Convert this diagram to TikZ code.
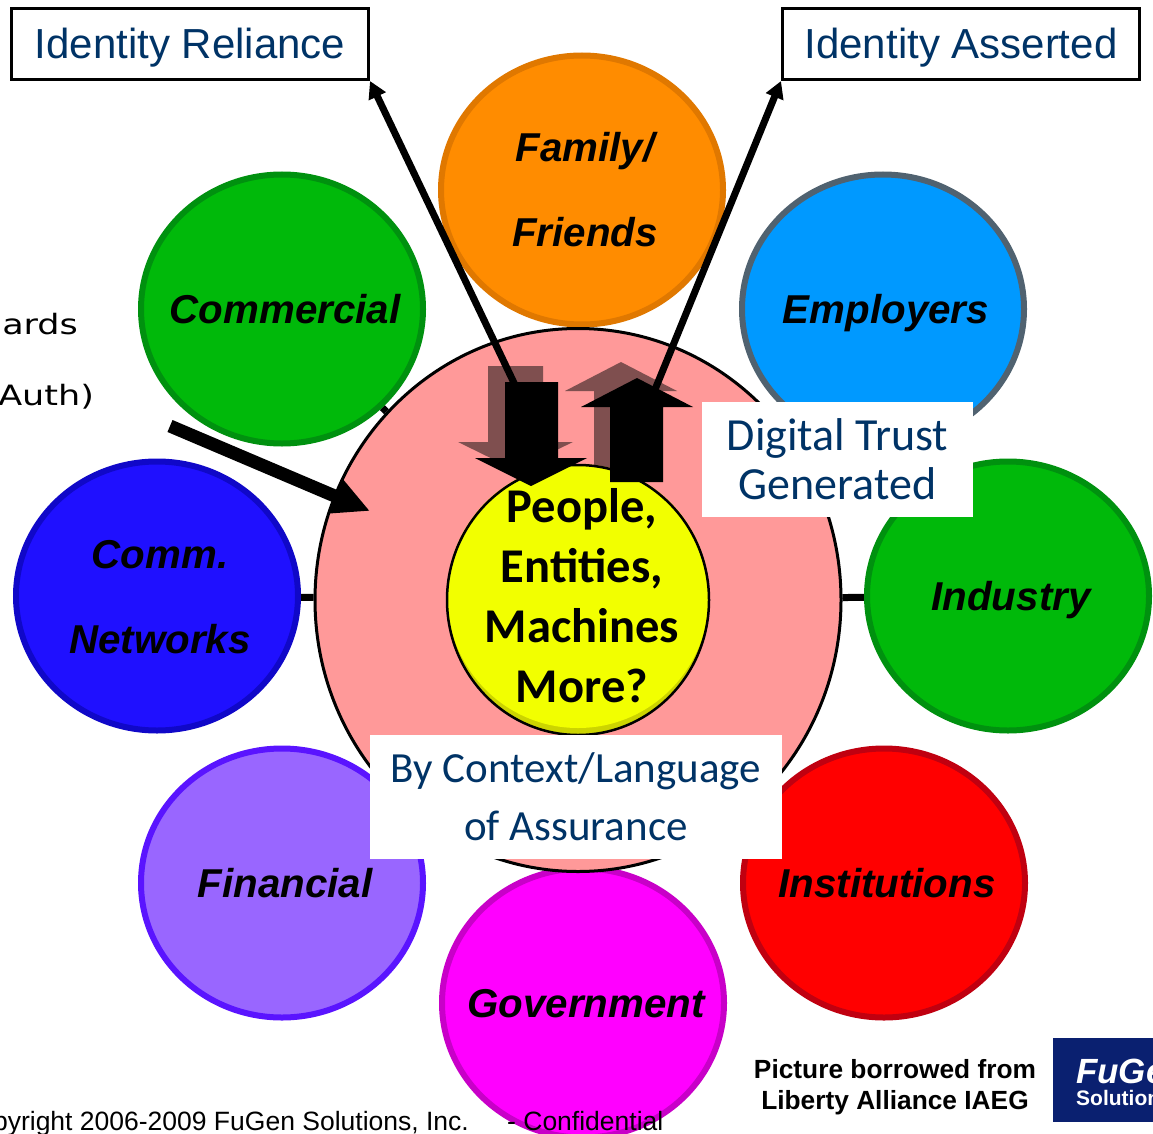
\documentclass[tikz,border=0pt]{standalone}
\usepackage{fontspec}
\setmainfont{Liberation Sans}
\newfontfamily\handfont{Carlito}
\newfontfamily\wideface{DejaVu Sans}
\usetikzlibrary{shapes.geometric,arrows.meta,backgrounds}
\definecolor{navytext}{HTML}{003366}
\definecolor{logoblue}{HTML}{0A2070}
\definecolor{shadowfill}{HTML}{7F4F4F}
\definecolor{trustpink}{HTML}{FF9999}
\definecolor{coreyellow}{HTML}{F2FF00}
\definecolor{coreshade}{HTML}{CCD400}
\newcommand{\sized}[2]{\fontsize{#1}{#2}\selectfont}
\begin{document}
\begin{tikzpicture}[x=1pt,y=-1pt]
        \tikzstyle{sector}=[ellipse,line width=6pt,minimum width=282pt,minimum height=269pt,inner sep=0pt]
        \tikzstyle{sectortext}=[inner sep=0pt,align=center,font=\sized{40.3}{85}\bfseries\itshape]
        \tikzstyle{idbox}=[draw=black,line width=3pt,fill=white,minimum width=357pt,minimum height=71pt,text height=30pt,text depth=0pt,text=navytext,font=\sized{42}{50}]
        \tikzstyle{notebox}=[fill=white,align=center,text=navytext,inner sep=0pt]
        \tikzstyle{link}=[draw=black,line width=7pt]
        \tikzstyle{pointer}=[draw=black,line width=7pt,-{Triangle[length=17pt,width=18pt]}]
        \useasboundingbox (0,0) rectangle (1153,1134);
        % the sectors
        \node [sector,draw={rgb,255:red,224;green,120;blue,0},fill={rgb,255:red,255;green,140;blue,0}] (family) at (582,190) {};
        \node [sector,draw={rgb,255:red,0;green,145;blue,15},fill={rgb,255:red,0;green,185;blue,10}] (commercial) at (282,309) {};
        \node [sector,draw={rgb,255:red,80;green,98;blue,112},fill={rgb,255:red,0;green,153;blue,255}] (employers) at (883,309) {};
        \node [sector,draw={rgb,255:red,16;green,8;blue,200},fill={rgb,255:red,31;green,16;blue,255}] (comm) at (157,596) {};
        \node [sector,draw={rgb,255:red,0;green,145;blue,15},fill={rgb,255:red,0;green,185;blue,10}] (industry) at (1008,596) {};
        \node [sector,draw={rgb,255:red,90;green,20;blue,255},fill={rgb,255:red,153;green,102;blue,255}] (financial) at (282,883) {};
        \node [sector,draw={rgb,255:red,192;green,0;blue,16},fill={rgb,255:red,255;green,0;blue,0}] (institutions) at (884,883) {};
        \node [sector,draw={rgb,255:red,200;green,0;blue,200},fill={rgb,255:red,255;green,0;blue,255}] (government) at (583,1003) {};
        \node [sectortext] (familytext) at (585,190) {Family/\\Friends};
        \node [sectortext,anchor=base] (commercialtext) at (285,323) {Commercial};
        \node [sectortext,anchor=base] (employerstext) at (886,323) {Employers};
        \node [sectortext] (commtext) at (160,597) {Comm.\\Networks};
        \node [sectortext,anchor=base] (industrytext) at (1011,610) {Industry};
        \node [sectortext,anchor=base] (financialtext) at (285,897) {Financial};
        \node [sectortext,anchor=base] (institutionstext) at (887,897) {Institutions};
        \node [sectortext,anchor=base] (governmenttext) at (586,1017) {Government};
        % trust circle and what sits in it
        \node [ellipse,draw=black,line width=3pt,fill=trustpink,minimum width=526pt,minimum height=543pt] (trust) at (578,600) {};
        \begin{scope}[on background layer]
         \path[link] (commercial) -- (trust);
         \path[link] (comm) -- (trust);
         \path[link] (industry) -- (trust);
        \end{scope}
        \fill[shadowfill] (488,366) -- (543,366) -- (543,442) -- (573,442) -- (515,470) -- (458,442) -- (488,442) -- cycle;
        \fill[shadowfill] (594,470) -- (594,391) -- (565,391) -- (621,362) -- (677,391) -- (647,391) -- (647,470) -- cycle;
        \fill[coreshade] (578,600) ellipse (131 and 135);
        \fill[coreyellow] (578,596) ellipse (131 and 132);
        \node [ellipse,draw=black,line width=2.5pt,minimum width=262pt,minimum height=270pt,inner sep=0pt] (core) at (578,600) {};
        \node [inner sep=0pt,align=center,font=\handfont\sized{48.5}{60}\bfseries] (coretext) at (582,596) {People,\\Entities,\\Machines\\More?};
        % boxes at the top and the arrows to them
        \node [idbox] (reliance) at (190,44) {Identity Reliance};
        \node [idbox] (asserted) at (961,44) {Identity Asserted};
        \coordinate (relianceend) at (515,385);
        \coordinate (assertedend) at (654,392);
        \draw[pointer] (relianceend) -- (reliance.south east);
        \draw[pointer] (assertedend) -- (asserted.south west);
        \fill[black] (505,382) -- (558,382) -- (558,458) -- (587,458) -- (531,486) -- (475,458) -- (505,458) -- cycle;
        \fill[black] (610,482) -- (610,407) -- (581,407) -- (637,378) -- (693,407) -- (663,407) -- (663,482) -- cycle;
        \coordinate (lefttail) at (170,426);
        \coordinate (lefttip) at (370,511);
        \draw[line width=13pt,-{Triangle[length=37pt,width=34pt]}] (lefttail) -- (lefttip);
        % white notes
        \node [notebox,minimum width=271pt,minimum height=115pt,font=\handfont\sized{46}{49}] (trustnote) at (837.5,459.5) {Digital Trust\\Generated};
        \node [notebox,minimum width=412pt,minimum height=124pt,font=\handfont\sized{43}{58}] (contextnote) at (576,797) {By Context/Language\\of Assurance};
        % cut off at the page edge
        \node [anchor=base west,inner sep=0pt,xscale=1.25,font=\wideface\sized{28}{30}] (leftone) at (2,334) {ards};
        \node [anchor=base west,inner sep=0pt,xscale=1.25,font=\wideface\sized{28}{30}] (lefttwo) at (-2,405) {Auth)};
        \node [anchor=base west,inner sep=0pt,font=\sized{26.5}{30}] (copyline) at (-41,1130) {Copyright 2006-2009 FuGen Solutions, Inc.};
        \node [anchor=base west,inner sep=0pt,font=\sized{26.5}{30}] (confline) at (507,1130) {- Confidential};
        \node [align=center,inner sep=0pt,font=\sized{26.3}{31}\bfseries] (borrowed) at (895,1087) {Picture borrowed from\\Liberty Alliance IAEG};
        \node [fill=logoblue,minimum width=100pt,minimum height=84pt,inner sep=0pt] (logo) at (1103,1080) {};
        \node [anchor=west,align=left,inner sep=0pt,text=white,font=\sized{21}{22}\bfseries] (logotext) at (1076,1082) {{\sized{35}{24}\itshape FuGen}\\Solutions};
\end{tikzpicture}
\end{document}
